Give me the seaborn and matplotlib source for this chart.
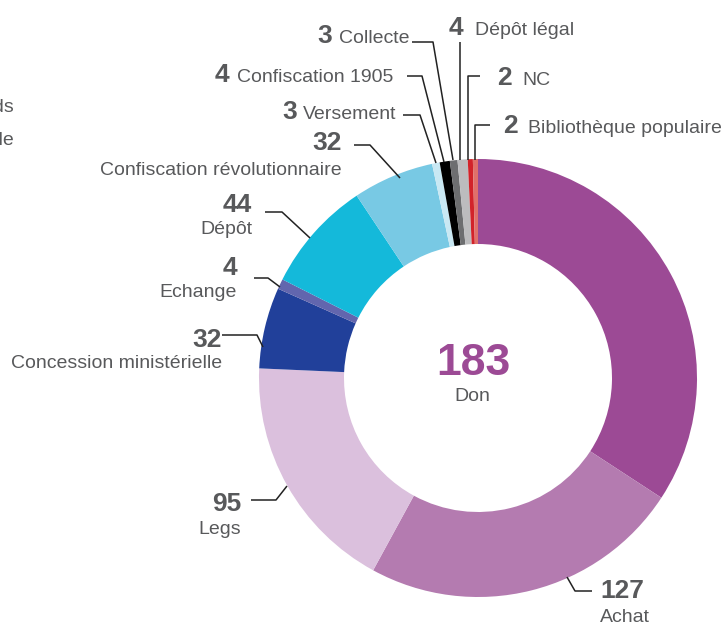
import matplotlib
matplotlib.use("Agg")
import matplotlib.pyplot as plt
import seaborn as sns

# Acquisition modes of the collection, clockwise from the top
categories = ["Don", "Achat", "Legs", "Concession ministérielle", "Echange",
              "Dépôt", "Confiscation révolutionnaire", "Versement",
              "Confiscation 1905", "Collecte", "Dépôt légal", "NC",
              "Bibliothèque populaire"]
counts = [183, 127, 95, 32, 4, 44, 32, 3, 4, 3, 4, 2, 2]
colors = ["#9c4a95", "#b47bb0", "#dbc0dd", "#21409a", "#6266ae",
          "#14b9da", "#78c9e4", "#c9e8f3", "#000000", "#6d6e70",
          "#bcbcbe", "#d2232a", "#e0706a"]

sns.set_theme(style="white")
plt.rcParams["font.family"] = ["Liberation Sans", "DejaVu Sans"]

TXT = "#58595b"
W, H = 726, 626
fig = plt.figure(figsize=(W / 100, H / 100), dpi=100)
ax = fig.add_axes([0, 0, 1, 1])

cx, cy, R, ring = 478, 378, 219, 85
ax.pie(counts, colors=colors, startangle=-90, counterclock=True,
       center=(cx, cy), radius=R,
       wedgeprops=dict(width=ring, linewidth=0), frame=True)
ax.set_xlim(0, W)
ax.set_ylim(H, 0)
ax.set_axis_off()

NUM = 19
LAB = 14

# centre label for the largest share
ax.text(473, 375, str(counts[0]), color=colors[0], fontsize=32,
        fontweight="bold", ha="center", va="baseline")
ax.text(472, 401, categories[0], color=TXT, fontsize=LAB,
        ha="center", va="baseline")

# stacked labels: (index, x, number baseline, name baseline, align)
stacked = [
    (1, 600, 598, 622, "left"),
    (2, 241, 511, 534, "right"),
    (3, 222, 347, 368, "right"),
    (4, 237, 275, 297, "right"),
    (5, 252, 212, 234, "right"),
    (6, 342, 150, 175, "right"),
]
for i, x, yn, yl, al in stacked:
    ax.text(x, yn, str(counts[i]), color=TXT, fontsize=NUM,
            fontweight="bold", ha=al, va="baseline")
    ax.text(x, yl, categories[i], color=TXT, fontsize=LAB,
            ha=al, va="baseline")

# inline labels: (index, x of number, x of name, baseline)
inline = [
    (7, 282, 303, 119),
    (8, 215, 237, 82),
    (9, 317, 339, 43),
    (10, 449, 475, 35),
    (11, 497, 522, 85),
    (12, 503, 528, 133),
]
for i, xn, xl, yb in inline:
    ax.text(xn, yb, str(counts[i]), color=TXT, fontsize=NUM,
            fontweight="bold", ha="left", va="baseline")
    ax.text(xl, yb, categories[i], color=TXT, fontsize=LAB,
            ha="left", va="baseline")

# leader lines
leaders = [
    [(567, 577), (575, 591), (592, 591)],
    [(251, 500), (276, 500), (287, 486)],
    [(222, 335), (257, 335), (263, 347)],
    [(254, 278), (268, 278), (280, 287)],
    [(265, 212), (282, 212), (310, 238)],
    [(354, 145), (370, 145), (400, 178)],
    [(403, 115), (420, 115), (436, 163)],
    [(407, 76), (422, 76), (444, 162)],
    [(412, 42), (433, 42), (453, 160)],
    [(460, 42), (460, 160)],
    [(480, 76), (468, 76), (468, 160)],
    [(490, 125), (475, 125), (475, 160)],
]
for pts in leaders:
    xs, ys = zip(*pts)
    ax.plot(xs, ys, color="#222222", lw=1.1, solid_capstyle="butt",
            zorder=3)

# title block at the far left, mostly beyond the canvas edge
ax.text(14, 112, "Origine des fonds", color=TXT, fontsize=LAB,
        ha="right", va="baseline")
ax.text(14, 145, "de la collection patrimoniale", color=TXT, fontsize=LAB,
        ha="right", va="baseline")

fig.savefig("out.png", dpi=100)
